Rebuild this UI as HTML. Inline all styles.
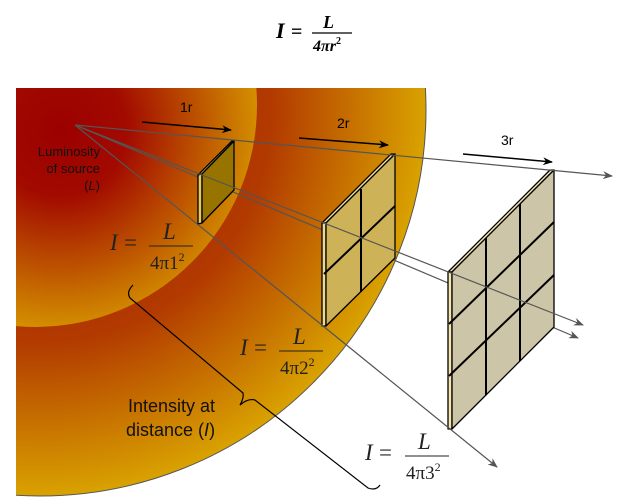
<!DOCTYPE html>
<html><head><meta charset="utf-8"><style>
html,body{margin:0;padding:0;background:#fff;width:618px;height:503px;overflow:hidden}
svg{display:block}
.m{font-family:"Liberation Serif",serif;}
.s{font-family:"Liberation Sans",sans-serif;}
</style></head><body>
<svg width="618" height="503" viewBox="0 0 618 503" xmlns="http://www.w3.org/2000/svg">
<defs>
<clipPath id="cl"><rect x="16" y="88" width="602" height="415"/></clipPath>
<radialGradient id="go" gradientUnits="userSpaceOnUse" cx="40" cy="110" r="386">
<stop offset="0" stop-color="#a01800"/><stop offset="0.6" stop-color="#b23a00"/><stop offset="1" stop-color="#d9a200"/>
</radialGradient>
<radialGradient id="gi" gradientUnits="userSpaceOnUse" cx="60" cy="130" r="220">
<stop offset="0" stop-color="#9c0000"/><stop offset="0.3" stop-color="#a20a00"/><stop offset="0.7" stop-color="#c26200"/><stop offset="1" stop-color="#dca400"/>
</radialGradient>
<marker id="ar" markerWidth="10" markerHeight="8" refX="9" refY="4" orient="auto" markerUnits="userSpaceOnUse"><path d="M0,0 L10,4 L0,8 L3,4 Z" fill="#555"/></marker>
<marker id="ak" markerWidth="10" markerHeight="8" refX="9" refY="4" orient="auto" markerUnits="userSpaceOnUse"><path d="M0,0 L10,4 L0,8 L3,4 Z" fill="#000"/></marker>
</defs>
<g clip-path="url(#cl)">
<circle cx="40" cy="110" r="386" fill="url(#go)" stroke="#555" stroke-width="1"/>
<circle cx="35" cy="105" r="222" fill="url(#gi)"/>
</g>
<!-- title -->
<text x="276" y="38" class="m" font-size="22" font-weight="bold" font-style="italic">I</text>
<text x="291" y="38" class="m" font-size="20" font-weight="bold">=</text>
<text x="323" y="28" class="m" font-size="18" font-weight="bold" font-style="italic">L</text>
<line x1="312" y1="33" x2="352" y2="33" stroke="#000" stroke-width="1.3"/>
<text x="313" y="51" class="m" font-size="16" font-weight="bold" font-style="italic">4πr<tspan font-size="10" font-style="normal" dy="-7">2</tspan></text>

<!-- rays behind panels -->
<g stroke="#555" stroke-width="1.2" fill="none">
<line x1="75" y1="125" x2="578" y2="338" marker-end="url(#ar)"/>
</g>
<!-- distance arrows -->
<g stroke="#000" stroke-width="1.5">
<line x1="142" y1="122" x2="231" y2="130" marker-end="url(#ak)"/>
<line x1="299" y1="138" x2="388" y2="145" marker-end="url(#ak)"/>
<line x1="463" y1="154" x2="552" y2="162" marker-end="url(#ak)"/>
</g>
<text x="180" y="112" class="s" font-size="14">1r</text>
<text x="337" y="128" class="s" font-size="14">2r</text>
<text x="501" y="145" class="s" font-size="14">3r</text>

<!-- panel 1 -->
<g stroke="#000" stroke-width="1.3" stroke-linejoin="round">
<polygon points="198,175 232,141 234,141 202,174" fill="#e8c860"/>
<polygon points="198,175 202,174 202,223 198,224" fill="#e8c860"/>
<polygon points="202,174 234,141 234,190 202,223" fill="#977400"/>
</g>
<!-- panel 2 -->
<g stroke="#000" stroke-width="1.3" stroke-linejoin="round">
<polygon points="322,223 391,154 395,154 326,223" fill="#f0d890"/>
<polygon points="322,223 326,223 326,326 322,326" fill="#f0d890"/>
<polygon points="326,223 395,154 395,258 326,326" fill="#cdb257"/>
<line x1="361" y1="189" x2="361" y2="292" stroke-width="2"/>
<line x1="324" y1="274" x2="395" y2="206" stroke-width="2"/>
</g>
<!-- panel 3 -->
<g stroke="#000" stroke-width="1.3" stroke-linejoin="round">
<polygon points="448,272 550,170 554,170 452,272" fill="#f5e6b0"/>
<polygon points="448,272 452,272 452,429 448,429" fill="#f5e6b0"/>
<polygon points="452,272 554,170 554,327 452,429" fill="#cdc5a8"/>
<line x1="486" y1="238" x2="486" y2="395" stroke-width="2"/>
<line x1="520" y1="204" x2="520" y2="361" stroke-width="2"/>
<line x1="449" y1="324" x2="554" y2="222" stroke-width="2"/>
<line x1="449" y1="376" x2="554" y2="275" stroke-width="2"/>
</g>

<!-- rays over panels -->
<g stroke="#555" stroke-width="1.2" fill="none">
<line x1="75" y1="125" x2="612" y2="176" marker-end="url(#ar)"/>
<line x1="75" y1="125" x2="583" y2="325" marker-end="url(#ar)"/>
<line x1="75" y1="125" x2="497" y2="467" marker-end="url(#ar)"/>
</g>

<!-- brace -->
<path d="M133,285 Q126,292 130,298 L243,393 Q244,398 240,405 Q248,398 255,400 L368,488 Q376,491 380,485" fill="none" stroke="#000" stroke-width="1.2"/>

<!-- labels -->
<g class="s" font-size="13" fill="#111" text-anchor="end">
<text x="100" y="156">Luminosity</text>
<text x="100" y="173">of source</text>
<text x="100" y="190">(<tspan font-style="italic">L</tspan>)</text>
</g>
<g class="s" font-size="18" fill="#111">
<text x="128" y="412">Intensity at</text>
<text x="126" y="436">distance (<tspan font-style="italic">I</tspan>)</text>
</g>

<!-- formulas -->
<g class="m" fill="#222">
<text x="110" y="250" font-size="23" font-style="italic">I</text>
<text x="124" y="250" font-size="23">=</text>
<text x="163" y="239" font-size="23" font-style="italic">L</text>
<line x1="149" y1="246" x2="193" y2="246" stroke="#222" stroke-width="1"/>
<text x="150" y="269" font-size="19">4π1<tspan font-size="12" dy="-8">2</tspan></text>

<text x="240" y="355" font-size="23" font-style="italic">I</text>
<text x="254" y="355" font-size="23">=</text>
<text x="293" y="344" font-size="23" font-style="italic">L</text>
<line x1="279" y1="351" x2="323" y2="351" stroke="#222" stroke-width="1"/>
<text x="280" y="374" font-size="19">4π2<tspan font-size="12" dy="-8">2</tspan></text>

<text x="365" y="460" font-size="23" font-style="italic">I</text>
<text x="379" y="460" font-size="23">=</text>
<text x="418" y="449" font-size="23" font-style="italic">L</text>
<line x1="405" y1="456" x2="449" y2="456" stroke="#222" stroke-width="1"/>
<text x="406" y="479" font-size="19">4π3<tspan font-size="12" dy="-8">2</tspan></text>
</g>
</svg>
</body></html>
